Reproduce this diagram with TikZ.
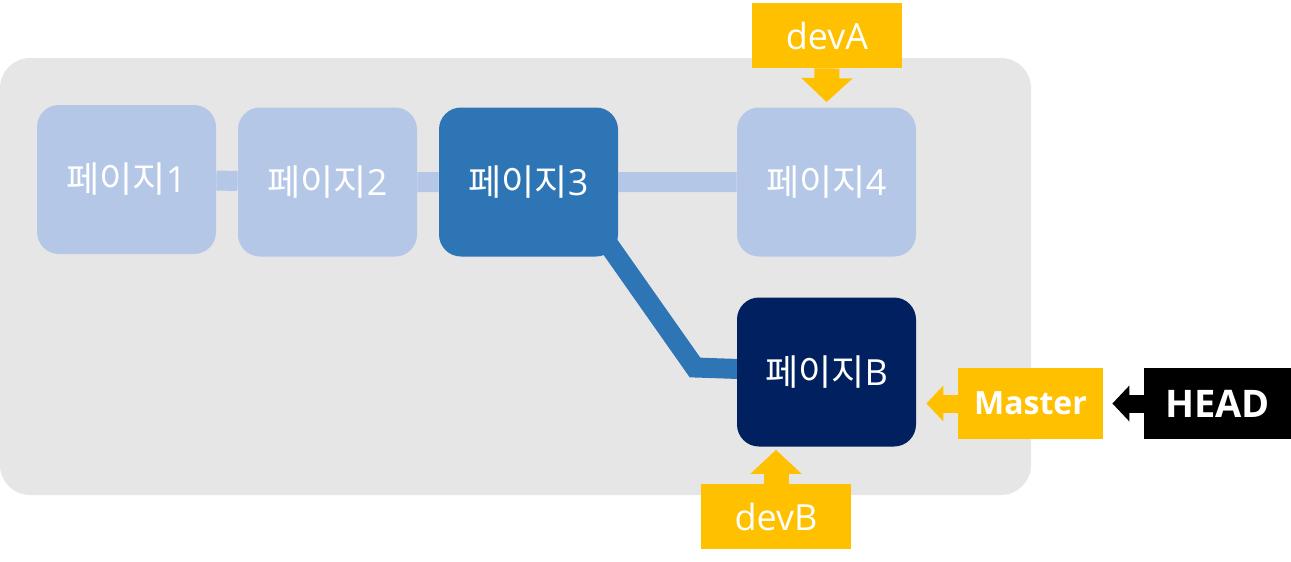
\documentclass[tikz,border=0pt]{standalone}
\usepackage{fontspec}
\setmainfont{Open Sans}
\newfontfamily\kr{Noto Sans CJK KR}
\usetikzlibrary{arrows.meta}

\definecolor{pagelight}{HTML}{B4C7E7}
\definecolor{pagemid}{HTML}{2E75B6}
\definecolor{pagedark}{HTML}{002060}
\definecolor{tagyellow}{HTML}{FFC000}
\definecolor{repogrey}{HTML}{E7E6E6}

\pgfdeclarelayer{bg}
\pgfdeclarelayer{links}
\pgfsetlayers{bg,links,main}

\tikzset{
	page/.style={rounded corners=11pt, minimum width=89.5pt, minimum height=74.5pt,
		inner sep=0pt, text=white, font=\fontsize{18}{20}\selectfont},
	tag/.style={fill=tagyellow, text=white, inner sep=0pt},
	link/.style={line width=10pt},
	tagarrow/.style={draw=tagyellow, line width=12.5pt, -{Triangle[length=12pt,width=25pt]}},
	sidearrow/.style={line width=9pt, -{Triangle[length=8.5pt,width=17.5pt]}}
}

\begin{document}
\begin{tikzpicture}[x=0.5pt,y=-0.5pt]
	
	\useasboundingbox (0,0) rectangle (1291,562);
	
	\node [page, fill=pagelight] (p1) at (126.5,179.5) {{\kr 페이지}1};
	
	\node [page, fill=pagelight] (p2) at (327.5,182) {{\kr 페이지}2};
	
	\node [page, fill=pagemid] (p3) at (528.5,182) {{\kr 페이지}3};
	
	\node [page, fill=pagelight] (p4) at (826.5,182) {{\kr 페이지}4};
	
	\node [page, fill=pagedark] (pB) at (826.5,372) {{\kr 페이지}B};
	
	\node [tag, minimum width=75pt, minimum height=32.5pt, font=\fontsize{18}{20}\selectfont] (devA) at (827,35.5) {devA};
	
	\node [tag, minimum width=75pt, minimum height=32.5pt, font=\fontsize{18}{20}\selectfont] (devB) at (776,516.5) {devB};
	
	\node [tag, minimum width=72.5pt, minimum height=35.5pt, font=\bfseries\fontsize{16}{18}\selectfont] (master) at (1030.5,403.5) {Master};
	
	\node [tag, fill=black, minimum width=73.5pt, minimum height=35.5pt, font=\bfseries\fontsize{19}{21}\selectfont] (head) at (1217.5,403.5) {HEAD};
	
	\coordinate (bend) at (695,367.5);
	
	\begin{pgfonlayer}{bg}
	\fill [repogrey, rounded corners=15pt] (0,58) rectangle (1031,495);
	\end{pgfonlayer}
	
	\begin{pgfonlayer}{links}
	\draw [link, pagelight] (p1) -- (p2) -- (p3) -- (p4);
	\draw [link, pagemid, miter limit=4] ([xshift=18pt]p3.center) -- (bend) -- (pB.center);
	\end{pgfonlayer}
	
	\draw [tagarrow, shorten >=2.5pt] (devA.south) -- (p4.north);
	
	\draw [tagarrow, shorten >=1.5pt] (devB.north) -- (devB.north |- pB.south);
	
	\draw [sidearrow, tagyellow, shorten >=5pt] (master.west) -- (master.west -| pB.east);
	
	\draw [sidearrow, black, shorten >=4.5pt] (head.west) -- (master.east);
	
\end{tikzpicture}
\end{document}
